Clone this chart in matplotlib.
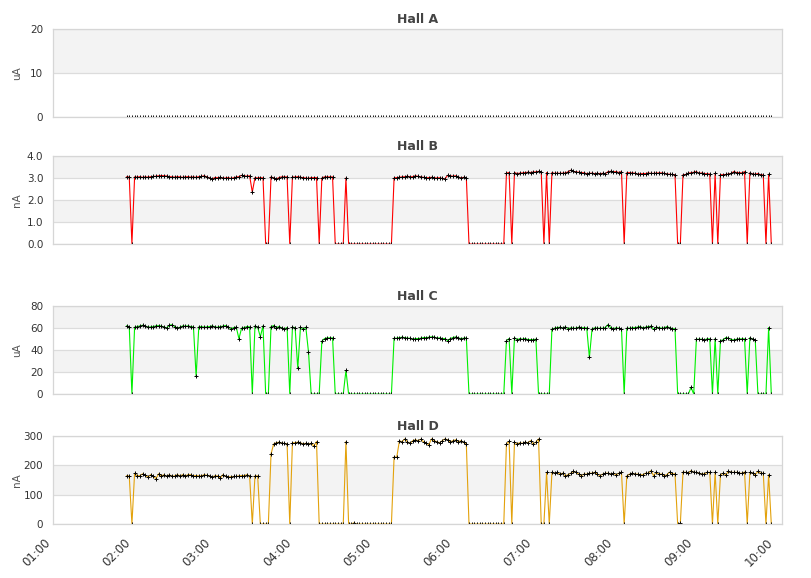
import numpy as np
import pandas as pd
import matplotlib
matplotlib.use("Agg")
import matplotlib.pyplot as plt
import matplotlib.dates as mdates

# samples every 2 minutes from 01:55 to 09:57
times = pd.date_range("2000-01-01 01:55", periods=242, freq="2min")

# Hall A reads zero the whole time
hall_a = [0.0] * 242

hall_b = [
    3.05, 3.05, 0, 3.05, 3.04, 3.06, 3.03, 3.05, 3.04, 3.06,
    3.07, 3.08, 3.1, 3.11, 3.1, 3.09, 3.06, 3.05, 3.04, 3.06,
    3.05, 3.03, 3.05, 3.06, 3.04, 3.05, 3.03, 3.06, 3.07, 3.1,
    3.05, 3.0, 2.95, 3.02, 3.01, 3.03, 2.99, 3.0, 3.02, 2.98,
    3.01, 3.04, 3.06, 3.12, 3.1, 3.08, 3.1, 2.36, 3.02, 3.0,
    3.02, 3.0, 0, 0, 3.05, 3.0, 2.95, 3.02, 3.05, 3.05,
    3.05, 0, 3.05, 3.04, 3.06, 3.03, 3.02, 3.0, 2.98, 3.02,
    3.01, 3.02, 0, 3.0, 3.05, 3.05, 3.05, 3.05, 0, 0,
    0, 0, 3.0, 0, 0, 0, 0, 0, 0, 0,
    0, 0, 0, 0, 0, 0, 0, 0, 0, 0,
    3.0, 3.02, 3.03, 3.05, 3.06, 3.08, 3.05, 3.06, 3.1, 3.07,
    3.05, 3.03, 3.0, 3.02, 3.03, 3.01, 3.0, 3.01, 2.98, 2.96,
    3.12, 3.1, 3.08, 3.1, 3.05, 3.0, 3.03, 3.02, 0, 0,
    0, 0, 0, 0, 0, 0, 0, 0, 0, 0,
    0, 0, 3.22, 3.25, 0, 3.25, 3.2, 3.22, 3.23, 3.25,
    3.26, 3.25, 3.27, 3.28, 3.3, 3.28, 0, 3.25, 0, 3.25,
    3.21, 3.22, 3.21, 3.22, 3.23, 3.28, 3.35, 3.3, 3.28, 3.26,
    3.25, 3.23, 3.2, 3.21, 3.22, 3.2, 3.21, 3.2, 3.21, 3.2,
    3.29, 3.3, 3.28, 3.29, 3.25, 3.29, 0, 3.24, 3.24, 3.23,
    3.22, 3.17, 3.19, 3.2, 3.2, 3.23, 3.21, 3.21, 3.22, 3.23,
    3.23, 3.21, 3.18, 3.17, 3.16, 3.15, 0, 0, 3.15, 3.16,
    3.22, 3.24, 3.26, 3.29, 3.21, 3.23, 3.2, 3.19, 3.18, 0,
    3.21, 0, 3.15, 3.15, 3.16, 3.18, 3.21, 3.29, 3.25, 3.24,
    3.23, 3.29, 0, 3.24, 3.18, 3.17, 3.2, 3.15, 3.14, 0, 3.17, 0,
]

hall_c = [
    61.9, 61.3, 0, 60.7, 61.3, 61.9, 62.5, 61.9, 60.7, 61.0,
    61.3, 61.9, 62.2, 61.6, 61.0, 60.0, 62.5, 63.0, 61.3, 60.0,
    60.7, 61.9, 61.6, 61.9, 61.3, 61.0, 16.0, 61.0, 61.3, 60.7,
    61.0, 61.3, 61.9, 61.0, 60.7, 61.3, 61.6, 62.2, 61.0, 59.2,
    60.4, 60.7, 50.4, 59.8, 60.4, 61.3, 61.0, 0, 61.9, 60.7,
    52.0, 61.9, 0, 0, 61.3, 62.2, 60.4, 61.3, 60.1, 59.2,
    60.4, 0, 60.7, 60.4, 23.2, 60.7, 59.2, 60.7, 38.3, 0,
    0, 0, 0, 48.0, 50.4, 51.0, 51.0, 51.0, 0, 0,
    0, 0, 21.4, 0, 0, 0, 0, 0, 0, 0,
    0, 0, 0, 0, 0, 0, 0, 0, 0, 0,
    50.7, 50.7, 51.3, 51.6, 51.3, 50.7, 50.7, 49.8, 50.4, 50.4,
    50.7, 51.3, 51.3, 51.6, 51.9, 51.9, 50.7, 51.0, 50.4, 50.4,
    48.6, 50.4, 51.3, 51.9, 51.0, 50.4, 50.7, 51.0, 0, 0,
    0, 0, 0, 0, 0, 0, 0, 0, 0, 0,
    0, 0, 48.6, 50.4, 0, 51.3, 49.2, 50.4, 49.8, 50.4,
    49.5, 49.5, 49.5, 49.8, 0, 0, 0, 0, 0, 58.9,
    59.8, 60.4, 60.7, 59.8, 61.0, 59.5, 60.1, 59.8, 59.8, 60.7,
    60.4, 60.1, 60.1, 33.2, 59.2, 60.1, 59.8, 59.8, 59.8, 60.4,
    63.1, 60.1, 59.5, 60.1, 59.8, 59.2, 0, 59.8, 59.8, 60.1,
    60.4, 60.7, 61.3, 60.1, 60.7, 61.3, 61.6, 58.9, 60.7, 60.4,
    59.8, 60.1, 61.3, 60.1, 59.5, 59.2, 0, 0, 0, 0,
    0, 6.0, 0, 49.8, 49.8, 49.8, 49.2, 50.1, 50.1, 0,
    50.4, 0, 48.6, 49.2, 51.3, 50.7, 49.5, 49.2, 49.8, 50.1,
    50.1, 50.1, 0, 51.3, 49.8, 48.9, 0, 0, 0, 0, 60.4, 0,
]

hall_d = [
    164, 164, 0, 173, 164, 165, 171, 166, 160, 168,
    162, 155, 171, 164, 168, 162, 168, 162, 164, 168,
    164, 168, 164, 168, 168, 164, 165, 164, 164, 168,
    166, 164, 160, 164, 164, 156, 168, 162, 161, 161,
    162, 162, 164, 165, 165, 168, 164, 0, 164, 164,
    0, 0, 0, 0, 239, 273, 277, 279, 275, 275,
    273, 0, 277, 277, 279, 277, 273, 275, 273, 275,
    266, 281, 0, 0, 0, 0, 0, 0, 0, 0,
    0, 0, 281, 0, 0, 4, 0, 0, 0, 0,
    0, 0, 0, 0, 0, 0, 0, 0, 0, 0,
    228, 228, 284, 280, 290, 280, 275, 284, 287, 284,
    289, 280, 275, 271, 290, 284, 280, 277, 284, 290,
    287, 280, 284, 287, 281, 284, 278, 272, 0, 0,
    0, 0, 0, 0, 0, 0, 0, 0, 0, 0,
    0, 0, 273, 282, 0, 279, 273, 277, 275, 279,
    277, 284, 273, 279, 290, 0, 0, 176, 0, 176,
    173, 176, 170, 173, 164, 168, 173, 179, 176, 170,
    165, 170, 170, 173, 173, 176, 170, 165, 170, 173,
    173, 170, 173, 168, 173, 176, 0, 164, 170, 173,
    170, 170, 168, 168, 173, 173, 182, 165, 176, 170,
    170, 165, 168, 177, 171, 171, 0, 2, 177, 176,
    173, 182, 176, 176, 173, 170, 171, 176, 176, 0,
    176, 0, 168, 173, 168, 179, 176, 176, 176, 173,
    173, 177, 0, 176, 173, 168, 179, 173, 173, 0, 168, 0,
]

names = ["Hall A", "Hall B", "Hall C", "Hall D"]
units = ["uA", "nA", "uA", "nA"]
yticks = [[0, 10, 20], [0, 1, 2, 3, 4], [0, 20, 40, 60, 80], [0, 100, 200, 300]]
series = [hall_a, hall_b, hall_c, hall_d]

colors = [None, "#ff0000", "#00f000", "#e3a20c"]
fmts = ["%d", "%.1f", "%d", "%d"]

# axes boxes in pixels (top, bottom) on a 811x578 canvas
W, H = 811.0, 578.0
LEFT, RIGHT = 53, 782
boxes = [(29, 117), (156, 244), (306, 394), (436, 524)]

fig = plt.figure(figsize=(W / 100, H / 100), dpi=100)
fig.patch.set_facecolor("white")

x0 = pd.Timestamp("2000-01-01 01:00")
x1 = pd.Timestamp("2000-01-01 10:05")

for k in range(4):
    top, bot = boxes[k]
    ax = fig.add_axes([LEFT / W, 1 - bot / H, (RIGHT - LEFT) / W, (bot - top) / H])
    ticks = yticks[k]

    # alternating bands, bottom band stays white
    for j in range(len(ticks) - 1):
        if j % 2 == 1:
            ax.axhspan(ticks[j], ticks[j + 1], color="#f3f3f3", lw=0, zorder=0)
    ax.yaxis.grid(True, color="#dcdcdc", lw=0.9, zorder=1)
    ax.set_axisbelow(True)

    if colors[k] is None:
        ax.plot(times, series[k], ls="none", marker="+", ms=2.3, mew=0.7,
                color="black", zorder=2)
    else:
        ax.plot(times, series[k], color=colors[k], lw=0.8, marker="+", ms=2.3,
                mew=0.7, mec="black", zorder=2)

    ax.set_xlim(x0, x1)
    ax.set_ylim(ticks[0], ticks[-1])
    ax.set_yticks(ticks)
    ax.set_yticklabels([fmts[k] % t for t in ticks])

    for s in ax.spines.values():
        s.set_color("#d6d6d6")
        s.set_linewidth(0.9)

    ax.xaxis.set_major_locator(mdates.HourLocator())
    ax.xaxis.set_major_formatter(mdates.DateFormatter("%H:%M"))
    ax.tick_params(axis="y", length=0, labelsize=7.5, colors="#333333", pad=7)
    ax.tick_params(axis="x", length=0, labelsize=8.5, colors="#333333", pad=9)

    ax.set_title(names[k], fontsize=9, fontweight="bold", color="#444444", pad=4)
    ax.set_ylabel(units[k], fontsize=7.5, color="#555555")
    ax.yaxis.set_label_coords(-0.042, 0.5)

    if k < 3:
        ax.set_xticklabels([])
    else:
        plt.setp(ax.get_xticklabels(), rotation=45, ha="right")

fig.savefig("out.png", dpi=100)
